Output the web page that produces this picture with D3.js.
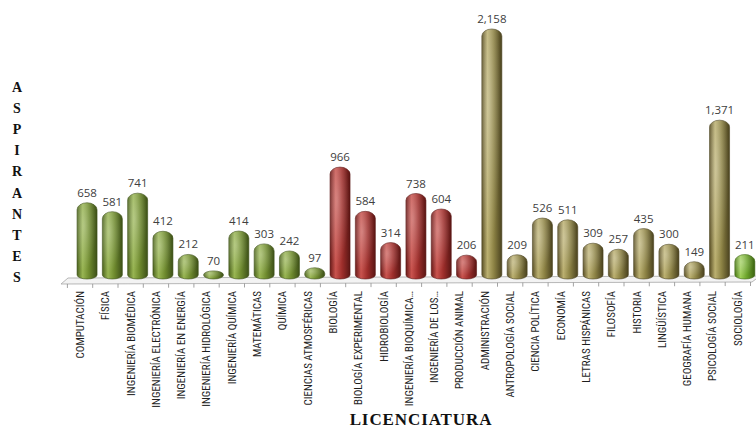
<!DOCTYPE html>
<html>
<head>
<meta charset="utf-8">
<script src="https://cdn.jsdelivr.net/npm/d3@7/dist/d3.min.js"></script>
<style>
  html, body { margin: 0; padding: 0; background: #ffffff; }
  svg { display: block; }
</style>
</head>
<body>
<svg id="chart" width="756" height="430"></svg>
<script>
// Aspirantes por licenciatura
const categories = [
  "COMPUTACIÓN", "FÍSICA", "INGENIERÍA BIOMÉDICA", "INGENIERÍA ELECTRÓNICA",
  "INGENIERÍA EN ENERGÍA", "INGENIERÍA HIDROLÓGICA", "INGENIERÍA QUÍMICA",
  "MATEMÁTICAS", "QUÍMICA", "CIENCIAS ATMOSFÉRICAS",
  "BIOLOGÍA", "BIOLOGÍA EXPERIMENTAL", "HIDROBIOLOGÍA", "INGENIERÍA BIOQUÍMICA…",
  "INGENIERÍA DE LOS…", "PRODUCCIÓN ANIMAL",
  "ADMINISTRACIÓN", "ANTROPOLOGÍA SOCIAL", "CIENCIA POLÍTICA", "ECONOMÍA",
  "LETRAS HISPÁNICAS", "FILOSOFÍA", "HISTORIA", "LINGÜÍSTICA",
  "GEOGRAFÍA HUMANA", "PSICOLOGÍA SOCIAL", "SOCIOLOGÍA"
];
const applicants = [
  658, 581, 741, 412, 212, 70, 414, 303, 242, 97,
  966, 584, 314, 738, 604, 206,
  2158, 209, 526, 511, 309, 257, 435, 300, 149, 1371, 211
];
const division = [
  "CBI", "CBI", "CBI", "CBI", "CBI", "CBI", "CBI", "CBI", "CBI", "CBI",
  "CBS", "CBS", "CBS", "CBS", "CBS", "CBS",
  "CSH", "CSH", "CSH", "CSH", "CSH", "CSH", "CSH", "CSH", "CSH", "CSH", "SOC"
];
const yTitle = "ASPIRANTES";
const xTitle = "LICENCIATURA";

// colour ramps for the cylinder shading: edge, highlight, body, dark edge
const palette = {
  CBI: ["#4c631e", "#98b552", "#6f8b2e", "#3d5018"],
  CBS: ["#6a1c1a", "#c9534e", "#9e2e2b", "#5a1614"],
  CSH: ["#5b5127", "#bbb070", "#8c8244", "#4a421f"],
  SOC: ["#4a7816", "#9dce58", "#6ba32a", "#3b6311"]
};

const svg = d3.select("#chart");
const defs = svg.append("defs");

Object.entries(palette).forEach(([key, c]) => {
  const g = defs.append("linearGradient")
    .attr("id", "grad-" + key)
    .attr("x1", "0%").attr("x2", "100%").attr("y1", "0%").attr("y2", "0%");
  [[0, c[0]], [0.28, c[1]], [0.6, c[2]], [1, c[3]]].forEach(([o, col]) =>
    g.append("stop").attr("offset", o).attr("stop-color", col));
});
const sheen = defs.append("radialGradient").attr("id", "sheen")
  .attr("cx", "35%").attr("cy", "30%").attr("r", "60%");
sheen.append("stop").attr("offset", 0).attr("stop-color", "#ffffff").attr("stop-opacity", 0.3);
sheen.append("stop").attr("offset", 1).attr("stop-color", "#ffffff").attr("stop-opacity", 0);

// scales
const x = d3.scaleBand().domain(categories).range([67.4, 750.5]).padding(0);
const y = d3.scaleLinear().domain([0, d3.max(applicants)]).range([279, 29]);
const depth = 7;        // bars sit at the back of the 3-D floor
const barW = 20;

// floor plane
const floorBack = 278, floorFront = 284;
svg.append("path")
  .attr("d", `M68,${floorBack} L760,${floorBack - 2} L752,${floorFront - 2} L61,${floorFront} Z`)
  .attr("fill", "#f3f3f3")
  .attr("stroke", "#a6a6a6")
  .attr("stroke-width", 0.8);

// category axis ticks along the front edge
const tickXs = categories.map(c => x(c)).concat([x.range()[1]]);
svg.append("g").selectAll("line").data(tickXs).join("line")
  .attr("x1", d => d).attr("x2", d => d)
  .attr("y1", d => floorFront - 2 * (d - 61) / 691)
  .attr("y2", d => floorFront + 4 - 2 * (d - 61) / 691)
  .attr("stroke", "#8c8c8c").attr("stroke-width", 0.8);

// cylinder outline: elliptical cap on top, shallower ellipse at the base
function barPath(cx, top, bottom) {
  const h = bottom - top;
  const rt = Math.min(7, h / 2), rb = Math.min(4, h / 2);
  const l = cx - barW / 2, r = cx + barW / 2, rx = barW / 2;
  return `M${l},${top + rt} A${rx},${rt} 0 0 1 ${r},${top + rt} ` +
         `L${r},${bottom - rb} A${rx},${rb} 0 0 1 ${l},${bottom - rb} Z`;
}

const data = categories.map((c, i) => ({ c, v: applicants[i], g: division[i] }));
const cx = d => x(d.c) + x.bandwidth() / 2 + depth;

const bars = svg.append("g");
bars.selectAll("path.bar").data(data).join("path")
  .attr("class", "bar")
  .attr("d", d => barPath(cx(d), y(d.v), y(0)))
  .attr("fill", d => `url(#grad-${d.g})`)
  .attr("stroke", d => palette[d.g][3])
  .attr("stroke-width", 0.6);
bars.selectAll("path.sheen").data(data).join("path")
  .attr("class", "sheen")
  .attr("d", d => barPath(cx(d), y(d.v), y(0)))
  .attr("fill", "url(#sheen)");

// value labels
const fmt = d3.format(",");
svg.append("g").selectAll("text").data(data).join("text")
  .attr("x", d => cx(d))
  .attr("y", d => y(d.v) - 6)
  .attr("text-anchor", "middle")
  .attr("font-family", "'Open Sans', 'DejaVu Sans', sans-serif")
  .attr("font-size", 11.5)
  .attr("fill", "#404040")
  .text(d => fmt(d.v));

// category labels, rotated
svg.append("g").selectAll("text").data(categories).join("text")
  .attr("transform", c => `translate(${x(c) + x.bandwidth() / 2},291) rotate(-90)`)
  .attr("dy", "0.35em")
  .attr("text-anchor", "end")
  .attr("font-family", "'Liberation Sans Narrow', 'Arial Narrow', 'Roboto Condensed', sans-serif")
  .attr("font-size", 11)
  .attr("fill", "#1e1e1e")
  .text(c => c);

// axis titles
svg.append("text")
  .attr("x", 421).attr("y", 425)
  .attr("text-anchor", "middle")
  .attr("font-family", "'Liberation Serif', 'Times New Roman', serif")
  .attr("font-weight", "bold")
  .attr("font-size", 17)
  .attr("letter-spacing", 0.9)
  .attr("fill", "#111")
  .text(xTitle);

svg.append("g").selectAll("text").data(yTitle.split("")).join("text")
  .attr("x", 17)
  .attr("y", (d, i) => 92 + i * 21.1)
  .attr("text-anchor", "middle")
  .attr("font-family", "'Liberation Serif', 'Times New Roman', serif")
  .attr("font-weight", "bold")
  .attr("font-size", 14)
  .attr("fill", "#111")
  .text(d => d);
</script>
</body>
</html>
